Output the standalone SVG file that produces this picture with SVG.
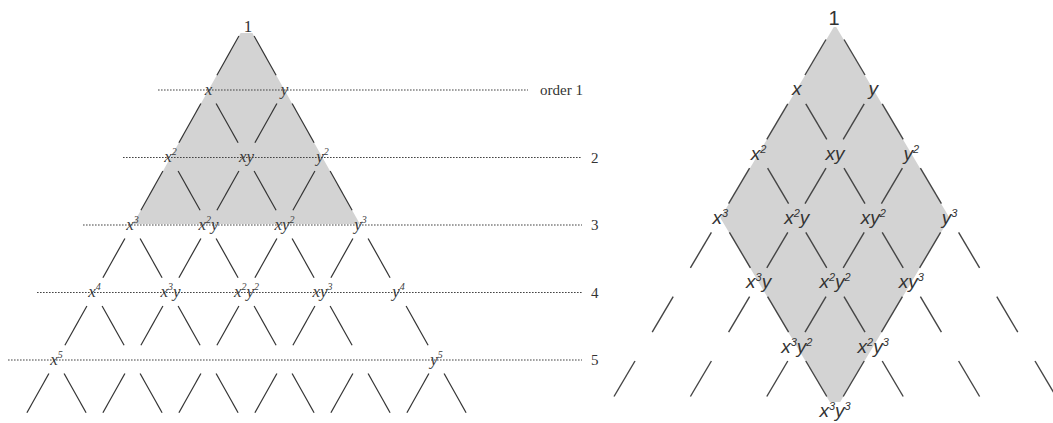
<svg xmlns="http://www.w3.org/2000/svg" width="1053" height="423" viewBox="0 0 1053 423">
<defs>
<style>
.lt{font-family:"Liberation Serif","Times New Roman",serif;font-style:italic;font-size:17px;fill:#3a3a3a;text-anchor:middle}
.ls{font-size:10px}
.rt{font-family:"Liberation Sans",Arial,sans-serif;font-style:italic;font-size:19px;fill:#333;text-anchor:middle}
.rs{font-size:11px}
.num{font-family:"Liberation Serif","Times New Roman",serif;font-size:15px;fill:#333}
.lone{font-family:"Liberation Serif","Times New Roman",serif;font-size:17px;fill:#333;text-anchor:middle}
.one{font-family:"Liberation Sans",Arial,sans-serif;font-size:20px;fill:#333;text-anchor:middle}
.dot{stroke:#444;stroke-width:1.1;stroke-dasharray:1.6 1.4;fill:none}
.seg{stroke:#333;stroke-width:1.2}
.rseg{stroke:#444;stroke-width:1.4}
.grey{fill:#d3d3d3}
</style>
<line id="la" class="seg" x1="-7.6" y1="13.5" x2="-29.6" y2="52.7"/>
<line id="lb" class="seg" x1="7.6" y1="13.5" x2="29.6" y2="52.7"/>
<line id="ra" class="rseg" x1="-9" y1="14.5" x2="-30" y2="50"/>
<line id="rb" class="rseg" x1="9" y1="14.5" x2="30" y2="50"/>
</defs>

<g id="shading">
<polygon class="grey" points="240.6,33 252.4,33 359.9,224 133.1,224"/>
<polygon class="grey" points="833.8,27 836.2,27 949.6,217.9 840.2,402 829.8,402 720.4,217.9"/>
</g>

<g id="order-lines">
<line class="dot" x1="158" y1="90" x2="528" y2="90"/>
<line class="dot" x1="123" y1="157.5" x2="582" y2="157.5"/>
<line class="dot" x1="83" y1="225" x2="582" y2="225"/>
<line class="dot" x1="37" y1="292.5" x2="582" y2="292.5"/>
<line class="dot" x1="8" y1="360" x2="582" y2="360"/>
<text class="num" x="540" y="95">order 1</text>
<text class="num" x="591" y="163">2</text>
<text class="num" x="591" y="230">3</text>
<text class="num" x="591" y="298">4</text>
<text class="num" x="591" y="365">5</text>
</g>

<g id="connectors">
<use href="#la" x="246.5" y="22.5"/><use href="#lb" x="246.5" y="22.5"/>
<use href="#la" x="208.5" y="90"/><use href="#lb" x="208.5" y="90"/>
<use href="#la" x="284.5" y="90"/><use href="#lb" x="284.5" y="90"/>
<use href="#la" x="170.5" y="157.5"/><use href="#lb" x="170.5" y="157.5"/>
<use href="#la" x="246.5" y="157.5"/><use href="#lb" x="246.5" y="157.5"/>
<use href="#la" x="322.5" y="157.5"/><use href="#lb" x="322.5" y="157.5"/>
<use href="#la" x="132.5" y="225"/><use href="#lb" x="132.5" y="225"/>
<use href="#la" x="208.5" y="225"/><use href="#lb" x="208.5" y="225"/>
<use href="#la" x="284.5" y="225"/><use href="#lb" x="284.5" y="225"/>
<use href="#la" x="360.5" y="225"/><use href="#lb" x="360.5" y="225"/>
<use href="#la" x="94.5" y="292.5"/><use href="#lb" x="94.5" y="292.5"/>
<use href="#la" x="170.5" y="292.5"/><use href="#lb" x="170.5" y="292.5"/>
<use href="#la" x="246.5" y="292.5"/><use href="#lb" x="246.5" y="292.5"/>
<use href="#la" x="322.5" y="292.5"/><use href="#lb" x="322.5" y="292.5"/>
<use href="#lb" x="398.5" y="292.5"/>
<use href="#la" x="56.5" y="360"/><use href="#lb" x="56.5" y="360"/>
<use href="#la" x="132.5" y="360"/><use href="#lb" x="132.5" y="360"/>
<use href="#la" x="208.5" y="360"/><use href="#lb" x="208.5" y="360"/>
<use href="#la" x="284.5" y="360"/><use href="#lb" x="284.5" y="360"/>
<use href="#la" x="360.5" y="360"/><use href="#lb" x="360.5" y="360"/>
<use href="#la" x="436.5" y="360"/><use href="#lb" x="436.5" y="360"/>

<use href="#ra" x="835" y="25"/><use href="#rb" x="835" y="25"/>
<use href="#ra" x="796.8" y="89.3"/><use href="#rb" x="796.8" y="89.3"/>
<use href="#ra" x="873.2" y="89.3"/><use href="#rb" x="873.2" y="89.3"/>
<use href="#ra" x="758.6" y="153.6"/><use href="#rb" x="758.6" y="153.6"/>
<use href="#ra" x="835" y="153.6"/><use href="#rb" x="835" y="153.6"/>
<use href="#ra" x="911.4" y="153.6"/><use href="#rb" x="911.4" y="153.6"/>
<use href="#ra" x="720.4" y="217.9"/><use href="#rb" x="720.4" y="217.9"/>
<use href="#ra" x="796.8" y="217.9"/><use href="#rb" x="796.8" y="217.9"/>
<use href="#ra" x="873.2" y="217.9"/><use href="#rb" x="873.2" y="217.9"/>
<use href="#ra" x="949.6" y="217.9"/><use href="#rb" x="949.6" y="217.9"/>
<use href="#ra" x="682.2" y="282.2"/>
<use href="#ra" x="758.6" y="282.2"/><use href="#rb" x="758.6" y="282.2"/>
<use href="#ra" x="835" y="282.2"/><use href="#rb" x="835" y="282.2"/>
<use href="#ra" x="911.4" y="282.2"/><use href="#rb" x="911.4" y="282.2"/>
<use href="#rb" x="987.8" y="282.2"/>
<use href="#ra" x="644" y="346.5"/>
<use href="#ra" x="720.4" y="346.5"/>
<use href="#ra" x="796.8" y="346.5"/><use href="#rb" x="796.8" y="346.5"/>
<use href="#ra" x="873.2" y="346.5"/><use href="#rb" x="873.2" y="346.5"/>
<use href="#rb" x="949.6" y="346.5"/>
<use href="#rb" x="1026" y="346.5"/>
</g>

<g id="left-nodes">
<g id="L-1"><text class="lone" x="248" y="32">1</text></g>
<g id="L-x"><text class="lt" x="208.5" y="94.5">x</text></g>
<g id="L-y"><text class="lt" x="284.5" y="94.5">y</text></g>
<g id="L-x2"><text class="lt" x="170.5" y="162">x<tspan class="ls" dy="-7">2</tspan></text></g>
<g id="L-xy"><text class="lt" x="246.5" y="162">xy</text></g>
<g id="L-y2"><text class="lt" x="322.5" y="162">y<tspan class="ls" dy="-7">2</tspan></text></g>
<g id="L-x3"><text class="lt" x="132.5" y="229.5">x<tspan class="ls" dy="-7">3</tspan></text></g>
<g id="L-x2y"><text class="lt" x="208.5" y="229.5">x<tspan class="ls" dy="-7">2</tspan><tspan dy="7">y</tspan></text></g>
<g id="L-xy2"><text class="lt" x="284.5" y="229.5">xy<tspan class="ls" dy="-7">2</tspan></text></g>
<g id="L-y3"><text class="lt" x="360.5" y="229.5">y<tspan class="ls" dy="-7">3</tspan></text></g>
<g id="L-x4"><text class="lt" x="94.5" y="297">x<tspan class="ls" dy="-7">4</tspan></text></g>
<g id="L-x3y"><text class="lt" x="170.5" y="297">x<tspan class="ls" dy="-7">3</tspan><tspan dy="7">y</tspan></text></g>
<g id="L-x2y2"><text class="lt" x="246.5" y="297">x<tspan class="ls" dy="-7">2</tspan><tspan dy="7">y</tspan><tspan class="ls" dy="-7">2</tspan></text></g>
<g id="L-xy3"><text class="lt" x="322.5" y="297">xy<tspan class="ls" dy="-7">3</tspan></text></g>
<g id="L-y4"><text class="lt" x="398.5" y="297">y<tspan class="ls" dy="-7">4</tspan></text></g>
<g id="L-x5"><text class="lt" x="56.5" y="364.5">x<tspan class="ls" dy="-7">5</tspan></text></g>
<g id="L-y5"><text class="lt" x="436.5" y="364.5">y<tspan class="ls" dy="-7">5</tspan></text></g>
</g>

<g id="right-nodes">
<g id="R-1"><text class="one" x="834" y="25">1</text></g>
<g id="R-x"><text class="rt" x="796.8" y="95.3">x</text></g>
<g id="R-y"><text class="rt" x="873.2" y="95.3">y</text></g>
<g id="R-x2"><text class="rt" x="758.6" y="159.6">x<tspan class="rs" dy="-7">2</tspan></text></g>
<g id="R-xy"><text class="rt" x="835" y="159.6">xy</text></g>
<g id="R-y2"><text class="rt" x="911.4" y="159.6">y<tspan class="rs" dy="-7">2</tspan></text></g>
<g id="R-x3"><text class="rt" x="720.4" y="224">x<tspan class="rs" dy="-7">3</tspan></text></g>
<g id="R-x2y"><text class="rt" x="796.8" y="224">x<tspan class="rs" dy="-7">2</tspan><tspan dy="7">y</tspan></text></g>
<g id="R-xy2"><text class="rt" x="873.2" y="224">xy<tspan class="rs" dy="-7">2</tspan></text></g>
<g id="R-y3"><text class="rt" x="949.6" y="224">y<tspan class="rs" dy="-7">3</tspan></text></g>
<g id="R-x3y"><text class="rt" x="758.6" y="288">x<tspan class="rs" dy="-7">3</tspan><tspan dy="7">y</tspan></text></g>
<g id="R-x2y2"><text class="rt" x="835" y="288">x<tspan class="rs" dy="-7">2</tspan><tspan dy="7">y</tspan><tspan class="rs" dy="-7">2</tspan></text></g>
<g id="R-xy3"><text class="rt" x="911.4" y="288">xy<tspan class="rs" dy="-7">3</tspan></text></g>
<g id="R-x3y2"><text class="rt" x="796.8" y="352.5">x<tspan class="rs" dy="-7">3</tspan><tspan dy="7">y</tspan><tspan class="rs" dy="-7">2</tspan></text></g>
<g id="R-x2y3"><text class="rt" x="873.2" y="352.5">x<tspan class="rs" dy="-7">2</tspan><tspan dy="7">y</tspan><tspan class="rs" dy="-7">3</tspan></text></g>
<g id="R-x3y3"><text class="rt" x="835" y="417">x<tspan class="rs" dy="-7">3</tspan><tspan dy="7">y</tspan><tspan class="rs" dy="-7">3</tspan></text></g>
</g>
</svg>
